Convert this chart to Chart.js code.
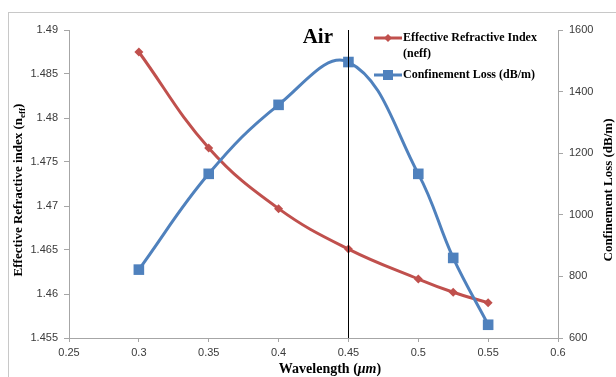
<!DOCTYPE html>
<html>
<head>
<meta charset="utf-8">
<script src="https://cdn.jsdelivr.net/npm/chart.js@4.4.0/dist/chart.umd.min.js"></script>
<style>
  html, body { margin: 0; padding: 0; background: #fff; }
</style>
</head>
<body>
<canvas id="myChart" width="616" height="377"></canvas>
<script>
// Longueurs d'onde (µm) et valeurs mesurées
var longueursOnde = [0.3, 0.35, 0.4, 0.45, 0.5, 0.525, 0.55];
var indiceEffectif = [1.4875, 1.4766, 1.4697, 1.4651, 1.4617, 1.4602, 1.4590];
var pertesConfinement = [822, 1133, 1357, 1496, 1133, 860, 643];

// Graduations des axes
var ticksX = [0.25, 0.3, 0.35, 0.4, 0.45, 0.5, 0.55, 0.6];
var ticksIndice = [1.455, 1.46, 1.465, 1.47, 1.475, 1.48, 1.485, 1.49];
var ticksPertes = [600, 800, 1000, 1200, 1400, 1600];

var rouge = '#C0504D';
var bleu = '#4F81BD';
var gris = '#A6A6A6';
var serif = '"Liberation Serif", "Times New Roman", serif';
var sans = '"Liberation Sans", Arial, sans-serif';

function points(valeurs) {
    return longueursOnde.map(function (x, i) { return { x: x, y: valeurs[i] }; });
}

function fixerTicks(liste) {
    return function (scale) {
        scale.ticks = liste.map(function (v) { return { value: v }; });
    };
}

// Cadre, ligne verticale "Air", légende et titres des axes
var decor = {
    id: 'decor',
    beforeDraw: function (chart) {
        var ctx = chart.ctx;
        ctx.save();
        ctx.fillStyle = '#fff';
        ctx.fillRect(0, 0, chart.width, chart.height);
        ctx.strokeStyle = '#C8C8C8';
        ctx.lineWidth = 1;
        ctx.strokeRect(8.5, 12.5, 800, 600);
        ctx.restore();
    },
    afterDatasetsDraw: function (chart) {
        var ctx = chart.ctx;
        var area = chart.chartArea;
        var xAir = Math.round(chart.scales.x.getPixelForValue(0.45)) + 0.5;
        ctx.save();
        ctx.strokeStyle = '#000';
        ctx.lineWidth = 1;
        ctx.beginPath();
        ctx.moveTo(xAir, area.top);
        ctx.lineTo(xAir, area.bottom);
        ctx.stroke();

        ctx.fillStyle = '#000';
        ctx.font = 'bold 21px ' + serif;
        ctx.textAlign = 'right';
        ctx.textBaseline = 'alphabetic';
        ctx.fillText('Air', 333, 43);

        // légende
        ctx.lineWidth = 3;
        ctx.strokeStyle = rouge;
        ctx.beginPath(); ctx.moveTo(374, 38); ctx.lineTo(402, 38); ctx.stroke();
        ctx.fillStyle = rouge;
        ctx.beginPath();
        ctx.moveTo(388, 34); ctx.lineTo(392, 38); ctx.lineTo(388, 42); ctx.lineTo(384, 38);
        ctx.closePath(); ctx.fill();
        ctx.strokeStyle = bleu;
        ctx.beginPath(); ctx.moveTo(374, 75); ctx.lineTo(402, 75); ctx.stroke();
        ctx.fillStyle = bleu;
        ctx.fillRect(383, 70, 10, 10);

        ctx.fillStyle = '#000';
        ctx.font = 'bold 12px ' + serif;
        ctx.textAlign = 'left';
        ctx.textBaseline = 'middle';
        ctx.fillText('Effective Refractive Index', 403, 38);
        ctx.fillText('(neff)', 403, 54);
        ctx.fillText('Confinement Loss (dB/m)', 403, 75);

        // titre de l'axe X
        ctx.font = 'bold 14px ' + serif;
        var t1 = 'Wavelength (';
        var t3 = ')';
        var w1 = ctx.measureText(t1).width;
        var w3 = ctx.measureText(t3).width;
        ctx.font = 'italic bold 14px ' + serif;
        var t2 = 'μm';
        var w2 = ctx.measureText(t2).width;
        var x0 = 330 - (w1 + w2 + w3) / 2;
        ctx.textBaseline = 'alphabetic';
        ctx.font = 'bold 14px ' + serif;
        ctx.fillText(t1, x0, 373);
        ctx.font = 'italic bold 14px ' + serif;
        ctx.fillText(t2, x0 + w1, 373);
        ctx.font = 'bold 14px ' + serif;
        ctx.fillText(t3, x0 + w1 + w2, 373);

        // titre de l'axe gauche (avec indice)
        ctx.save();
        ctx.translate(22, 190);
        ctx.rotate(-Math.PI / 2);
        ctx.font = 'bold 13px ' + serif;
        var a = 'Effective Refractive index (n';
        var wa = ctx.measureText(a).width;
        ctx.font = 'bold 9px ' + serif;
        var b = 'eff';
        var wb = ctx.measureText(b).width;
        ctx.font = 'bold 13px ' + serif;
        var wc = ctx.measureText(')').width;
        var s = -(wa + wb + wc) / 2;
        ctx.fillText(a, s, 0);
        ctx.font = 'bold 9px ' + serif;
        ctx.fillText(b, s + wa, 3);
        ctx.font = 'bold 13px ' + serif;
        ctx.fillText(')', s + wa + wb, 0);
        ctx.restore();

        // titre de l'axe droit
        ctx.save();
        ctx.translate(612, 190);
        ctx.rotate(-Math.PI / 2);
        ctx.font = 'bold 13px ' + serif;
        ctx.textAlign = 'center';
        ctx.fillText('Confinement Loss (dB/m)', 0, 0);
        ctx.restore();
        ctx.restore();
    }
};

var ctx = document.getElementById('myChart').getContext('2d');

var myChart = new Chart(ctx, {
    type: 'line',
    data: {
        datasets: [{
            label: 'Effective Refractive Index (neff)',
            data: points(indiceEffectif),
            yAxisID: 'yIndice',
            borderColor: rouge,
            backgroundColor: rouge,
            borderWidth: 3,
            pointStyle: 'rectRot',
            pointRadius: 4.5,
            pointBorderWidth: 0,
            tension: 0.4,
            order: 1
        }, {
            label: 'Confinement Loss (dB/m)',
            data: points(pertesConfinement),
            yAxisID: 'yPertes',
            borderColor: bleu,
            backgroundColor: bleu,
            borderWidth: 3,
            pointStyle: 'rect',
            pointRadius: 7.5,
            pointBorderWidth: 0,
            tension: 0.4,
            order: 0
        }]
    },
    options: {
        responsive: false,
        animation: false,
        events: [],
        layout: { padding: { top: 30, left: 0, right: 0, bottom: 0 } },
        plugins: {
            legend: { display: false },
            tooltip: { enabled: false }
        },
        scales: {
            x: {
                type: 'linear',
                min: 0.25,
                max: 0.6,
                afterBuildTicks: fixerTicks(ticksX),
                afterFit: function (s) { s.height = 39; },
                grid: { drawOnChartArea: false, color: gris, tickLength: 4 },
                border: { color: gris },
                ticks: {
                    color: '#3a3a3a',
                    font: { family: sans, size: 11 },
                    padding: 4,
                    maxRotation: 0,
                    callback: function (v) { return String(+v.toFixed(3)); }
                }
            },
            yIndice: {
                type: 'linear',
                position: 'left',
                min: 1.455,
                max: 1.49,
                afterBuildTicks: fixerTicks(ticksIndice),
                afterFit: function (s) { s.width = 69; },
                grid: { drawOnChartArea: false, color: gris, tickLength: 5 },
                border: { color: gris },
                ticks: {
                    color: '#3a3a3a',
                    font: { family: sans, size: 11 },
                    padding: 6,
                    callback: function (v) { return String(+v.toFixed(3)); }
                }
            },
            yPertes: {
                type: 'linear',
                position: 'right',
                min: 600,
                max: 1600,
                afterBuildTicks: fixerTicks(ticksPertes),
                afterFit: function (s) { s.width = 58; },
                grid: { drawOnChartArea: false, color: gris, tickLength: 5 },
                border: { color: gris },
                ticks: {
                    color: '#3a3a3a',
                    font: { family: sans, size: 11 },
                    padding: 6,
                    callback: function (v) { return String(v); }
                }
            }
        }
    },
    plugins: [decor]
});
</script>
</body>
</html>
